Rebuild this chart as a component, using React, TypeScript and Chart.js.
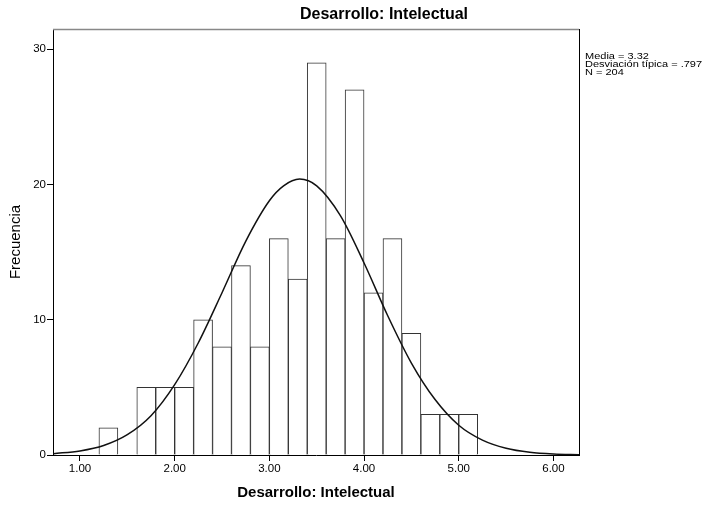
import React, { useEffect, useRef } from "react";
import { Chart, registerables } from "chart.js";

Chart.register(...registerables);

// Histogram bins (centres of 0.2-wide bins) and their frequencies
const binCenters = [1.3, 1.5, 1.7, 1.9, 2.1, 2.3, 2.5, 2.7, 2.9, 3.1, 3.3, 3.5, 3.7, 3.9, 4.1, 4.3, 4.5, 4.7, 4.9, 5.1];
const frequencies = [2, 0, 5, 5, 5, 10, 8, 14, 8, 16, 13, 29, 16, 27, 12, 16, 9, 3, 3, 3];

// Normal curve
const curveX = [0.72, 1.0, 1.25, 1.5, 1.75, 2.0, 2.25, 2.5, 2.75, 3.0, 3.15, 3.32, 3.5, 3.75, 4.0, 4.25, 4.5, 4.75, 5.0, 5.25, 5.5, 5.75, 6.0, 6.27];
const curveY = [0.1, 0.3, 0.7, 1.5, 2.9, 5.2, 8.3, 12.0, 15.8, 18.8, 19.9, 20.4, 19.9, 17.7, 14.2, 10.3, 6.8, 4.1, 2.2, 1.1, 0.5, 0.2, 0.07, 0.02];

const xTicks = [1, 2, 3, 4, 5, 6];
const yTicks = [0, 10, 20, 30];
const xMin = 0.715;
const xMax = 6.27;
const yMax = 31.5;

const chartTitle = "Desarrollo: Intelectual";
const xTitle = "Desarrollo: Intelectual";
const yTitle = "Frecuencia";
const statsLines = ["Media = 3.32", "Desviación típica = .797", "N = 204"];

const FONT = "'Liberation Sans', Arial, sans-serif";

const decorPlugin = {
  id: "decor",
  afterDraw(chart: any) {
    const { ctx, chartArea } = chart;
    const { left, right, top, bottom } = chartArea;
    ctx.save();
    // top and right frame
    ctx.strokeStyle = "#888";
    ctx.lineWidth = 1.5;
    ctx.beginPath();
    ctx.moveTo(left, top + 0.5);
    ctx.lineTo(right, top + 0.5);
    ctx.stroke();
    ctx.strokeStyle = "#000";
    ctx.lineWidth = 1;
    ctx.beginPath();
    ctx.moveTo(right + 0.5, top);
    ctx.lineTo(right + 0.5, bottom);
    ctx.stroke();
    // title
    ctx.fillStyle = "#000";
    ctx.font = "bold 16px " + FONT;
    ctx.textAlign = "center";
    ctx.textBaseline = "middle";
    ctx.fillText(chartTitle, 384, 15);
    // stats
    ctx.font = "11px " + FONT;
    ctx.textAlign = "left";
    ctx.textBaseline = "alphabetic";
    statsLines.forEach((s, i) => {
      ctx.save();
      ctx.translate(585, 58.5 + i * 8);
      ctx.scale(1, 0.85);
      ctx.fillText(s, 0, 0);
      ctx.restore();
    });
    ctx.restore();
  },
};

export default function App() {
  const ref = useRef<HTMLCanvasElement | null>(null);
  useEffect(() => {
    if (!ref.current) return;
    Chart.defaults.font.family = FONT;
    Chart.defaults.color = "#000";
    const chart = new Chart(ref.current, {
      type: "bar",
      data: {
        datasets: [
          {
            type: "line",
            data: curveX.map((x, i) => ({ x, y: curveY[i] })),
            borderColor: "#111",
            borderWidth: 1.5,
            pointRadius: 0,
            cubicInterpolationMode: "monotone",
            fill: false,
            order: 0,
          } as any,
          {
            type: "bar",
            data: binCenters.map((x, i) => ({ x, y: frequencies[i] })),
            backgroundColor: "#fff",
            borderColor: "#333",
            borderWidth: 1,
            barPercentage: 1,
            categoryPercentage: 1,
            order: 1,
          } as any,
        ],
      },
      options: {
        responsive: false,
        animation: false,
        events: [],
        layout: { padding: { top: 29, right: 129, left: 0, bottom: 0 } },
        plugins: {
          legend: { display: false },
          tooltip: { enabled: false },
          title: { display: false },
        },
        scales: {
          x: {
            type: "linear",
            min: xMin,
            max: xMax,
            offset: false,
            afterBuildTicks: (s: any) => {
              s.ticks = xTicks.map((v) => ({ value: v }));
            },
            afterFit: (s: any) => {
              s.height = 53;
            },
            ticks: {
              callback: (v: any) => Number(v).toFixed(2),
              font: { size: 11.5 },
              padding: 1,
              maxRotation: 0,
              autoSkip: false,
            },
            grid: {
              offset: false,
              drawOnChartArea: false,
              drawTicks: true,
              tickLength: 6,
              color: "#000",
              tickColor: "#000",
              tickWidth: 1,
            },
            border: { display: true, color: "#000", width: 1 },
            title: {
              display: true,
              text: xTitle,
              font: { size: 15, weight: "bold" },
              padding: { top: 0, bottom: 6 },
            },
          },
          y: {
            type: "linear",
            min: 0,
            max: yMax,
            afterBuildTicks: (s: any) => {
              s.ticks = yTicks.map((v) => ({ value: v }));
            },
            afterFit: (s: any) => {
              s.width = 53;
            },
            ticks: { font: { size: 11.5 }, padding: 1 },
            grid: {
              offset: false,
              drawOnChartArea: false,
              drawTicks: true,
              tickLength: 6,
              color: "#000",
              tickColor: "#000",
              tickWidth: 1,
            },
            border: { display: true, color: "#000", width: 1 },
            title: {
              display: true,
              text: yTitle,
              font: { size: 15 },
              padding: { top: 7, bottom: 0 },
            },
          },
        },
      },
      plugins: [decorPlugin],
    } as any);
    return () => chart.destroy();
  }, []);
  return (
    <div style={{ position: "absolute", left: 0, top: 0, width: 708, height: 508, background: "#fff" }}>
      <canvas ref={ref} width={708} height={508} style={{ display: "block" }} />
    </div>
  );
}
